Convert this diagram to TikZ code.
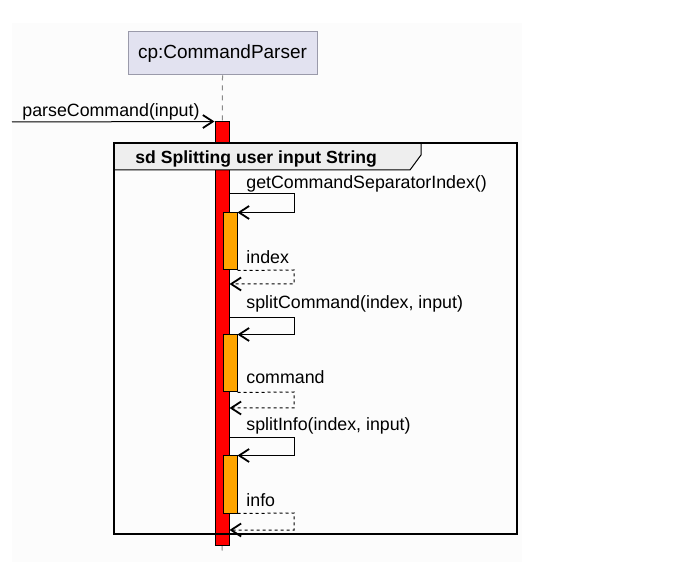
\documentclass[tikz,border=0pt]{standalone}
\usepackage{fontspec}
\setmainfont{Liberation Sans}
\usetikzlibrary{arrows.meta}
\definecolor{partfill}{HTML}{E2E2F0}
\definecolor{partline}{HTML}{9A9AAA}
\definecolor{tabfill}{HTML}{EEEEEE}
\definecolor{actorange}{HTML}{FFA500}
\definecolor{bggrey}{HTML}{FCFCFC}
\definecolor{lifegrey}{HTML}{8A8A8A}
\begin{document}
\begin{tikzpicture}[x=0.5pt,y=-0.5pt,
  msg/.style={line width=0.5pt,-{Straight Barb[length=5pt,width=6.5pt,line width=0.9pt]}},
  ret/.style={msg,dash pattern=on 1.5pt off 1.5pt},
  actbar/.style={draw,line width=0.5pt,minimum width=7pt,inner sep=0pt},
  lbl/.style={anchor=base west,inner sep=0pt,font=\fontsize{8.9}{10}\selectfont}]
\useasboundingbox (0,0) rectangle (680,571);
\fill[bggrey] (12,23) rectangle (522,562);
% participant and lifeline
\node[draw=partline,fill=partfill,line width=0.5pt,minimum width=94.5pt,minimum height=21.5pt,inner sep=0pt,font=\fontsize{9.5}{11}\selectfont] (cp) at (222.5,53.5) {cp:CommandParser};
\coordinate (cpend) at (222,552);
\draw[lifegrey,line width=0.5pt,dash pattern=on 2.5pt off 2.5pt] (cp.south) -- (cpend);
% activations
\node[actbar,fill=red,minimum height=211.5pt] (act) at (222,333.5) {};
\node[actbar,fill=actorange,minimum height=28.5pt] (sub1) at (230,241.5) {};
\node[actbar,fill=actorange,minimum height=28.5pt] (sub2) at (230,363.5) {};
\node[actbar,fill=actorange,minimum height=28.5pt] (sub3) at (230,484.5) {};
% frame
\draw[line width=0.5pt,fill=tabfill] (114,143) -- (421,143) -- (421,155) -- (410,170) -- (114,170);
\draw[line width=1pt] (114,143) rectangle (517,534);
\node[anchor=base west,inner sep=0pt,font=\bfseries\fontsize{8.8}{10}\selectfont] (sd) at (135,164) {sd Splitting user input String};
% incoming call
\coordinate (src) at (12,122);
\draw[msg] (src) -- (act.north west);
\node[lbl] (m0) at (22,117) {parseCommand(input)};
% self calls
\draw[msg] (act.east |- 0,194) -- (294,194) |- (sub1.north east);
\node[lbl] (m1) at (246,189) {getCommandSeparatorIndex()};
\draw[ret] (sub1.south east) -- (294,270) |- (act.east |- 0,284);
\node[lbl] (r1) at (246,264) {index};
\draw[msg] (act.east |- 0,318) -- (294,318) |- (sub2.north east);
\node[lbl] (m2) at (246,309) {splitCommand(index, input)};
\draw[ret] (sub2.south east) -- (294,392) |- (act.east |- 0,408);
\node[lbl] (r2) at (246,384) {command};
\draw[msg] (act.east |- 0,438) -- (294,438) |- (sub3.north east);
\node[lbl] (m3) at (246,431) {splitInfo(index, input)};
\draw[ret] (sub3.south east) -- (294,513) |- (act.east |- 0,530);
\node[lbl] (r3) at (246,506) {info};
\end{tikzpicture}
\end{document}
